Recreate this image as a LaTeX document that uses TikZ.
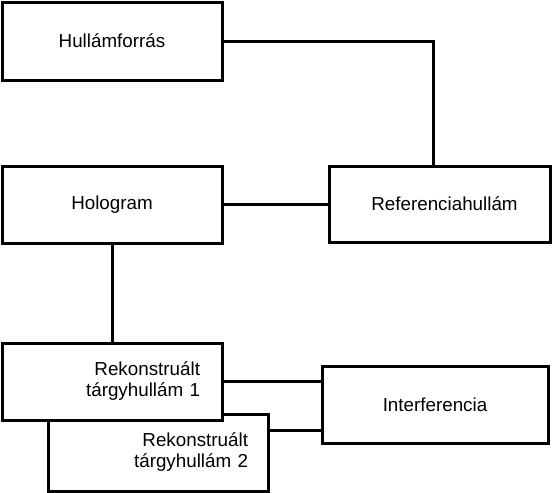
\documentclass[tikz,border=0pt]{standalone}
\usepackage{fontspec}
\setmainfont{Liberation Sans}
\usetikzlibrary{positioning}
\begin{document}
\begin{tikzpicture}[x=1pt,y=-1pt,
  box/.style={draw,line width=3pt,fill=white,inner sep=0pt,
    font=\fontsize{18.8}{21}\selectfont},
  conn/.style={line width=3pt}]
\useasboundingbox (0,0) rectangle (552,493);
\node[box,minimum width=220pt,minimum height=78pt] (hf) at (112,41) {Hullámforrás};
\node[box,minimum width=221pt,minimum height=76pt] (ref) at (439.5,204) {\hspace*{10pt}Referenciahullám};
\node[box,minimum width=220pt,minimum height=77pt] (holo) at (112,204.5) {Hologram};
\node[box,minimum width=220pt,minimum height=77pt,align=right,text width=180pt,inner xsep=20pt] (rek2) at (158,452.5) {Rekonstruált\\tárgyhullám 2};
\node[box,minimum width=220pt,minimum height=77pt,align=right,text width=176pt,inner xsep=22pt] (rek1) at (112,381.5) {Rekonstruált\\tárgyhullám 1};
\node[box,minimum width=226pt,minimum height=77pt] (intf) at (435,404.5) {Interferencia};
\draw[conn] (hf.east) -| ([xshift=-6.5pt]ref.north);
\draw[conn] (holo.east) -- (holo.east -| ref.west);
\draw[conn] (holo.south) -- (rek1.north);
\draw[conn] (rek1.east) -- (rek1.east -| intf.west);
\draw[conn] ([yshift=22.5pt]rek2.east) -- ([yshift=22.5pt]rek2.east -| intf.west);
\end{tikzpicture}
\end{document}
